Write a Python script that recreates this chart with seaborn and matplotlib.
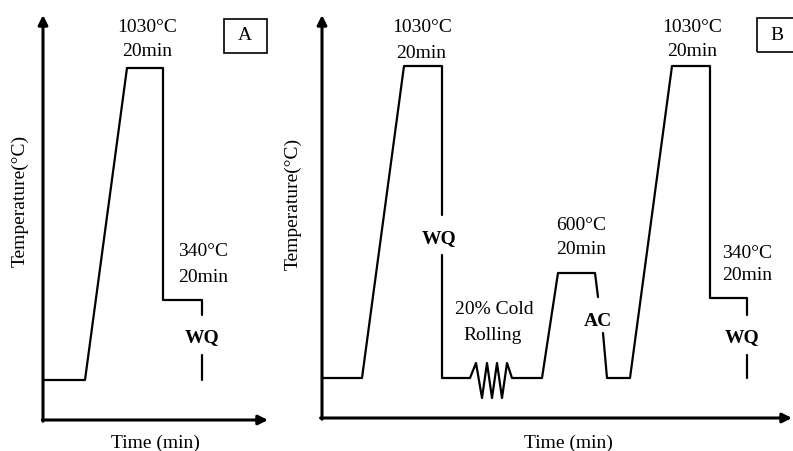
import pandas as pd
import matplotlib.pyplot as plt
import seaborn as sns
from matplotlib.patches import Rectangle

sns.set_style('white')
plt.rcParams['font.family'] = ['Liberation Serif', 'DejaVu Serif']
plt.rcParams['text.color'] = 'black'

W, H = 793, 451

# schematic profiles (arbitrary time units, arbitrary temperature units)
# panel A: austenitize -> WQ -> 340C temper
a_time = [0, 42, 84, 120, 120, 159, 159]
a_temp = [40, 40, 352, 352, 120, 120, 105]
a_wq_time = [159, 159]
a_wq_temp = [65, 40]

# panel B: austenitize -> WQ -> cold roll -> 600C -> AC -> austenitize -> WQ -> 340C
b_seg1_time = [0, 40, 82, 120, 120]
b_seg1_temp = [40, 40, 352, 352, 203]
b_seg2_time = [120, 120, 148, 154, 160, 165, 170, 175, 180, 185, 190, 220, 236, 273, 276]
b_seg2_temp = [163, 40, 40, 55, 20, 55, 20, 55, 20, 55, 40, 40, 145, 145, 121]
b_seg3_time = [281, 285, 308, 350, 388, 388, 425, 425]
b_seg3_temp = [85, 40, 40, 352, 352, 120, 120, 103]
b_seg4_time = [425, 425]
b_seg4_temp = [63, 40]


def frame(xs, ys):
    rows = []
    for k, (x, y) in enumerate(zip(xs, ys)):
        for t, v in zip(x, y):
            rows.append({'time': t, 'temp': v, 'seg': k})
    return pd.DataFrame(rows)


df_a = frame([a_time, a_wq_time], [a_temp, a_wq_temp])
df_b = frame([b_seg1_time, b_seg2_time, b_seg3_time, b_seg4_time],
             [b_seg1_temp, b_seg2_temp, b_seg3_temp, b_seg4_temp])

fig = plt.figure(figsize=(W / 100, H / 100), dpi=100)


def make_ax(x0, y0, x1, y1):
    # pixel box: origin (x0, y0) bottom-left, arrow tips at x1 / y1
    return fig.add_axes([x0 / W, 1 - y0 / H, (x1 - x0) / W, (y0 - y1) / H])


ax_a = make_ax(43, 420, 268, 15)
ax_b = make_ax(322, 418, 792, 15)

for ax, df, xmax, ymax in [(ax_a, df_a, 225, 405), (ax_b, df_b, 470, 403)]:
    sns.lineplot(data=df, x='time', y='temp', units='seg', estimator=None,
                 sort=False, color='black', lw=1.6, ax=ax, legend=False)
    ax.set_xlim(0, xmax)
    ax.set_ylim(0, ymax)
    for s in ax.spines.values():
        s.set_visible(False)
    ax.set_xticks([])
    ax.set_yticks([])
    ax.set_xlabel('')
    ax.set_ylabel('')
    ax.patch.set_alpha(0)
    arrow = dict(arrowstyle='-|>', lw=2.2, color='black', shrinkA=0, shrinkB=0,
                 mutation_scale=14)
    ax.annotate('', xy=(0, 1), xytext=(0, -0.003), xycoords='axes fraction', arrowprops=arrow)
    ax.annotate('', xy=(1, 0), xytext=(-0.003, 0), xycoords='axes fraction', arrowprops=arrow)


def label(x, y, s, **kw):
    fig.text(x / W, 1 - y / H, s, ha='center', va='center', fontsize=14, **kw)


# panel A text
label(147, 27, '1030°C')
label(147, 51, '20min')
label(203, 252, '340°C')
label(203, 277, '20min')
label(202, 338, 'WQ', fontweight='bold')
label(245, 36, 'A')
label(20, 201, 'Temperature(°C)', rotation=90)
label(155, 443, 'Time (min)')

# panel B text
label(422, 28, '1030°C')
label(421, 53, '20min')
label(439, 239, 'WQ', fontweight='bold')
label(494, 310, '20% Cold')
label(493, 336, 'Rolling')
label(581, 226, '600°C')
label(581, 249, '20min')
label(598, 321, 'AC', fontweight='bold')
label(692, 27, '1030°C')
label(692, 51, '20min')
label(747, 253, '340°C')
label(747, 276, '20min')
label(742, 338, 'WQ', fontweight='bold')
label(777, 35, 'B')
label(293, 204, 'Temperature(°C)', rotation=90)
label(568, 443, 'Time (min)')

# boxes around panel letters
for bx0, by0, bx1, by1 in [(224, 19, 267, 53), (757, 18, 810, 52)]:
    fig.add_artist(Rectangle((bx0 / W, 1 - by1 / H), (bx1 - bx0) / W, (by1 - by0) / H,
                             transform=fig.transFigure, fill=False, lw=1.2, ec='black'))

fig.savefig('out.png', dpi=100)
